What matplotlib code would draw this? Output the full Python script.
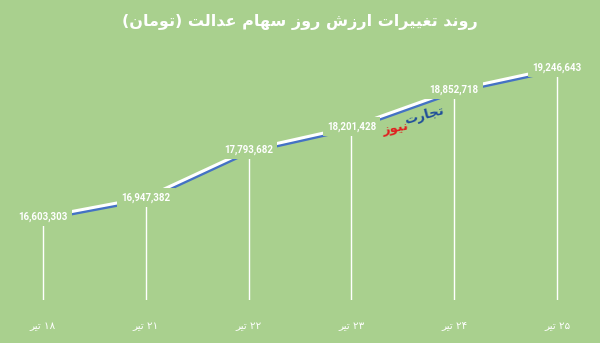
import re
import matplotlib
matplotlib.use("Agg")
import matplotlib.pyplot as plt
import matplotlib.patheffects as pe

days = ["۱۸ تیر", "۲۱ تیر", "۲۲ تیر", "۲۳ تیر", "۲۴ تیر", "۲۵ تیر"]
values = [16603303, 16947382, 17793682, 18201428, 18852718, 19246643]
title = "روند تغییرات ارزش روز سهام عدالت (تومان)"
logo_blue = "تجارت"
logo_red = "نیوز"

BG = "#a9d08e"
BLUE = "#4472c4"

# matplotlib has no arabic shaping, so pick presentation forms by hand
FORMS = {
    "ا": ("\uFE8D", "\uFE8E"),
    "د": ("\uFEA9", "\uFEAA"),
    "ر": ("\uFEAD", "\uFEAE"),
    "ز": ("\uFEAF", "\uFEB0"),
    "و": ("\uFEED", "\uFEEE"),
    "ت": ("\uFE95", "\uFE96", "\uFE97", "\uFE98"),
    "ج": ("\uFE9D", "\uFE9E", "\uFE9F", "\uFEA0"),
    "س": ("\uFEB1", "\uFEB2", "\uFEB3", "\uFEB4"),
    "ش": ("\uFEB5", "\uFEB6", "\uFEB7", "\uFEB8"),
    "ع": ("\uFEC9", "\uFECA", "\uFECB", "\uFECC"),
    "غ": ("\uFECD", "\uFECE", "\uFECF", "\uFED0"),
    "ل": ("\uFEDD", "\uFEDE", "\uFEDF", "\uFEE0"),
    "م": ("\uFEE1", "\uFEE2", "\uFEE3", "\uFEE4"),
    "ن": ("\uFEE5", "\uFEE6", "\uFEE7", "\uFEE8"),
    "ه": ("\uFEE9", "\uFEEA", "\uFEEB", "\uFEEC"),
    "ی": ("\uFEEF", "\uFEF0", "\uFEF3", "\uFEF4"),
}


def rtl(s):
    out = []
    for i, c in enumerate(s):
        if c not in FORMS:
            out.append(c)
            continue
        prev = s[i - 1] if i > 0 else ""
        nxt = s[i + 1] if i + 1 < len(s) else ""
        jp = prev in FORMS and len(FORMS[prev]) == 4
        jn = len(FORMS[c]) == 4 and nxt in FORMS
        f = FORMS[c]
        if jp and jn:
            out.append(f[3])
        elif jp:
            out.append(f[1])
        elif jn:
            out.append(f[2])
        else:
            out.append(f[0])
    vis = "".join(out)[::-1]
    vis = vis.translate(str.maketrans("()", ")("))
    return re.sub(r"[۰-۹0-9]+", lambda m: m.group(0)[::-1], vis)


fig = plt.figure(figsize=(6, 3.43), dpi=100, facecolor=BG)
ax = fig.add_axes([0, 43 / 343, 1, 250 / 343])
ax.set_facecolor(BG)

x = list(range(len(values)))
ax.vlines(x, 15.131e6, values, color="white", lw=1, zorder=1)
ax.plot(x, values, color="white", lw=2.2, zorder=2,
        path_effects=[pe.SimpleLineShadow(offset=(0.5, -1.6), shadow_color=BLUE, alpha=1), pe.Normal()])

for xi, v in zip(x, values):
    ax.text(xi, v, f"{v:,}", ha="center", va="center", color="white", fontsize=7,
            fontfamily="Roboto", fontweight="bold", zorder=3,
            bbox=dict(facecolor=BG, edgecolor="none", pad=3))

ax.set_xlim(-0.418, 5.418)
ax.set_ylim(15.131e6, 19.564e6)
ax.set_xticks(x)
ax.set_xticklabels([rtl(d) for d in days], color="white", fontsize=7.5, fontfamily="DejaVu Sans")
ax.tick_params(axis="x", length=0, pad=15)
ax.set_yticks([])
for s in ax.spines.values():
    s.set_visible(False)

fig.text(0.5, 1 - 22 / 343, rtl(title), ha="center", va="center", color="white",
         fontsize=11.5, fontweight="bold", fontfamily="DejaVu Sans")

# watermark logo
fig.text(424 / 600, 1 - 115 / 343, rtl(logo_blue), ha="center", va="center", color="#1f4e9a",
         fontsize=9.5, fontweight="bold", rotation=15, fontfamily="DejaVu Sans", zorder=4)
fig.text(395 / 600, 1 - 128 / 343, rtl(logo_red), ha="center", va="center", color="#e02020",
         fontsize=9.5, fontweight="bold", rotation=10, fontfamily="DejaVu Sans", zorder=4)

fig.savefig("out.png", dpi=100, facecolor=BG)
